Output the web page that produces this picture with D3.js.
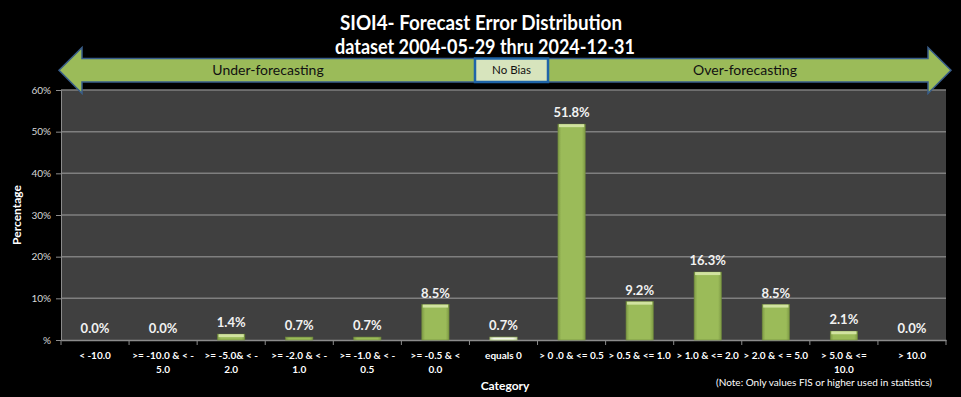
<!DOCTYPE html>
<html><head><meta charset="utf-8">
<script src="https://cdn.jsdelivr.net/npm/d3@7"></script>
<style>
html,body{margin:0;padding:0;background:#000;}
svg{display:block;}
text{font-family:Lato,"Open Sans",sans-serif;}
</style></head>
<body>
<svg id="c" width="961" height="397"></svg>
<script>
const categories = ["< -10.0", ">= -10.0 & < -|5.0", ">= -5.0& < -|2.0", ">= -2.0 & < -|1.0", ">= -1.0 & < -|0.5", ">= -0.5 & <|0.0", "equals 0", "> 0 .0 & <= 0.5", "> 0.5 & <= 1.0", "> 1.0 & <= 2.0", "> 2.0 & < = 5.0", "> 5.0 & <=|10.0", "> 10.0"];
const values = [0.0, 0.0, 1.4, 0.7, 0.7, 8.5, 0.7, 51.8, 9.2, 16.3, 8.5, 2.1, 0.0];
const yTicks = [0, 10, 20, 30, 40, 50, 60];
const yTickLabels = ["%", "10%", "20%", "30%", "40%", "50%", "60%"];
const titleLines = ["SIOI4- Forecast Error Distribution", "dataset 2004-05-29  thru 2024-12-31"];

const svg = d3.select("#c");
const W = 961, H = 397;
const m = {left: 61, right: 15, top: 90, bottom: 57};
const x = d3.scaleBand().domain(d3.range(categories.length)).range([m.left, W - m.right]).paddingInner(0.6).paddingOuter(0.3);
const xb = d3.scaleBand().domain(d3.range(categories.length)).range([m.left, W - m.right]);
const y = d3.scaleLinear().domain([0, 60]).range([H - m.bottom, m.top]);
const barData = values.map((v, i) => ({v, i}));

const defs = svg.append("defs");
const g1 = defs.append("linearGradient").attr("id", "gbar");
g1.append("stop").attr("offset", "0%").attr("stop-color", "#7E9A45");
g1.append("stop").attr("offset", "12%").attr("stop-color", "#9BBB59");
g1.append("stop").attr("offset", "88%").attr("stop-color", "#9BBB59");
g1.append("stop").attr("offset", "100%").attr("stop-color", "#7E9A45");
const g2 = defs.append("linearGradient").attr("id", "wbar");
g2.append("stop").attr("offset", "0%").attr("stop-color", "#C9D6AE");
g2.append("stop").attr("offset", "15%").attr("stop-color", "#F2F5EA");
g2.append("stop").attr("offset", "85%").attr("stop-color", "#F2F5EA");
g2.append("stop").attr("offset", "100%").attr("stop-color", "#C9D6AE");

// plot background
svg.append("rect").attr("x", m.left).attr("y", m.top).attr("width", W - m.right - m.left).attr("height", H - m.bottom - m.top).attr("fill", "#404040");

// gridlines
svg.append("g").selectAll("line").data(yTicks.slice(1)).join("line")
  .attr("x1", m.left).attr("x2", W - m.right)
  .attr("y1", d => y(d)).attr("y2", d => y(d))
  .attr("stroke", "#7F7F7F").attr("stroke-width", 1.5);

// y axis
const yAxis = d3.axisLeft(y).tickValues(yTicks).tickFormat((d, i) => yTickLabels[i]).tickSize(5).tickPadding(5);
const ya = svg.append("g").attr("transform", `translate(${m.left},0)`).call(yAxis);
ya.select(".domain").attr("stroke", "#8C8C8C").attr("stroke-width", 1);
ya.selectAll(".tick line").attr("stroke", "#8C8C8C");
ya.selectAll(".tick text").attr("fill", "#D9D9D9").style("font-size", "10px").style("font-family", "Lato, sans-serif");

// x axis
const xAxis = d3.axisBottom(xb).tickSize(0).tickFormat("");
const xa = svg.append("g").attr("transform", `translate(0,${H - m.bottom})`).call(xAxis);
xa.select(".domain").attr("stroke", "#8C8C8C").attr("stroke-width", 1.5);
xa.append("g").selectAll("line").data(d3.range(categories.length + 1)).join("line")
  .attr("x1", d => m.left + d * xb.step()).attr("x2", d => m.left + d * xb.step())
  .attr("y1", 0).attr("y2", 5).attr("stroke", "#8C8C8C");

// x labels
const xl = svg.append("g").selectAll("text").data(categories).join("text")
  .attr("x", (d, i) => xb(i) + xb.bandwidth() / 2)
  .attr("y", 359)
  .attr("text-anchor", "middle")
  .attr("fill", "#FFFFFF").style("font-size", "10px").style("font-weight", "bold");
xl.each(function(d) {
  const parts = d.split("|");
  const t = d3.select(this);
  parts.forEach((p, j) => t.append("tspan").attr("x", t.attr("x")).attr("dy", j === 0 ? 0 : 14).text(p));
});

// bars
const bars = svg.append("g").selectAll("g").data(barData).join("g");
bars.append("rect")
  .attr("x", d => x(d.i)).attr("width", x.bandwidth())
  .attr("y", d => y(d.v)).attr("height", d => y(0) - y(d.v))
  .attr("fill", d => d.i === 6 ? "url(#wbar)" : "url(#gbar)")
  .attr("stroke", d => d.i === 6 ? "#9BBB59" : "#6F8A3C").attr("stroke-width", 0.6);
bars.filter(d => y(0) - y(d.v) > 3).append("rect")
  .attr("x", d => x(d.i) + 1).attr("width", x.bandwidth() - 2)
  .attr("y", d => y(d.v)).attr("height", 3)
  .attr("fill", d => d.i === 6 ? "#FFFFFF" : "#D1E3A0");

// data labels
svg.append("g").selectAll("text").data(barData).join("text")
  .attr("x", d => x(d.i) + x.bandwidth() / 2)
  .attr("y", d => y(d.v) - 7)
  .attr("text-anchor", "middle")
  .attr("fill", "#F2F2F2").style("font-size", "13px").style("font-weight", "bold")
  .text(d => d.v.toFixed(1) + "%");

// axis titles
svg.append("text").attr("transform", `translate(21,${(m.top + H - m.bottom) / 2}) rotate(-90)`)
  .attr("text-anchor", "middle").attr("fill", "#FFFFFF").style("font-size", "12px").style("font-weight", "bold").text("Percentage");
svg.append("text").attr("x", 505).attr("y", 390).attr("text-anchor", "middle")
  .attr("fill", "#FFFFFF").style("font-size", "12px").style("font-weight", "bold").text("Category");
svg.append("text").attr("x", 824).attr("y", 386).attr("text-anchor", "middle")
  .attr("fill", "#FFFFFF").style("font-size", "10px").text("(Note: Only values FIS or higher used in statistics)");

// titles
svg.append("text").attr("x", 481).attr("y", 30).attr("text-anchor", "middle")
  .attr("fill", "#FFFFFF").style("font-size", "20px").style("font-weight", "bold")
  .attr("textLength", 282).attr("lengthAdjust", "spacingAndGlyphs").text(titleLines[0]);
svg.append("text").attr("x", 485).attr("y", 54).attr("text-anchor", "middle")
  .attr("fill", "#FFFFFF").style("font-size", "20px").style("font-weight", "bold")
  .attr("textLength", 300).attr("lengthAdjust", "spacingAndGlyphs").text(titleLines[1]);

// bias arrows
const ann = svg.append("g");
const bt = 58.5, bb = 82, ht = 47.5, hb = 93.5, cy = (bt + bb) / 2;
const boxL = 475, boxR = 548;
ann.append("path").attr("d", `M59,${cy} L82,${ht} L82,${bt} L${boxL},${bt} L${boxL},${bb} L82,${bb} L82,${hb} Z`)
  .attr("fill", "#9BBB59").attr("stroke", "#385D8A").attr("stroke-width", 1.5);
ann.append("path").attr("d", `M951,${cy} L928,${ht} L928,${bt} L${boxR},${bt} L${boxR},${bb} L928,${bb} L928,${hb} Z`)
  .attr("fill", "#9BBB59").attr("stroke", "#385D8A").attr("stroke-width", 1.5);
ann.append("rect").attr("x", boxL).attr("y", bt).attr("width", boxR - boxL).attr("height", bb - bt)
  .attr("fill", "#D7E4BD").attr("stroke", "#1F64A8").attr("stroke-width", 2.5);
ann.append("text").attr("x", 268).attr("y", cy + 5).attr("text-anchor", "middle").attr("fill", "#111111").style("font-size", "14px").text("Under-forecasting");
ann.append("text").attr("x", 745).attr("y", cy + 5).attr("text-anchor", "middle").attr("fill", "#111111").style("font-size", "14px").text("Over-forecasting");
ann.append("text").attr("x", 511.5).attr("y", cy + 4).attr("text-anchor", "middle").attr("fill", "#111111").style("font-size", "11.5px").text("No  Bias");
</script>
</body></html>
